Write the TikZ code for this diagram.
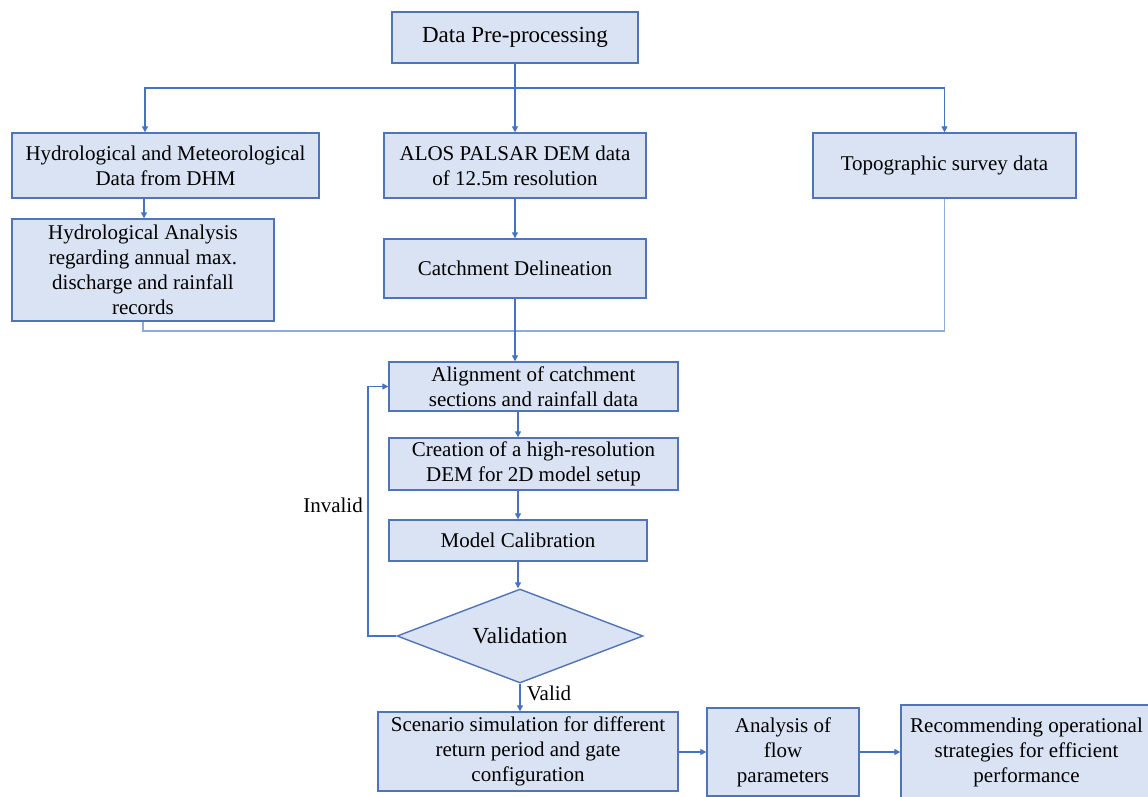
\documentclass[tikz,border=0pt]{standalone}
\usepackage{fontspec}
\setmainfont{Liberation Serif}
\usetikzlibrary{arrows.meta,shapes.geometric}
\definecolor{boxfill}{RGB}{218,227,243}
\definecolor{boxdraw}{RGB}{79,116,186}
\definecolor{linkc}{RGB}{68,114,196}
\definecolor{linklight}{RGB}{143,170,220}
\tikzset{
  flowbox/.style={draw=boxdraw, fill=boxfill, line width=1.4pt, inner sep=0pt, align=center,
    font=\fontsize{21}{25}\selectfont},
  link/.style={draw=linkc, line width=1.3pt, -{Triangle[length=6pt,width=6pt]}},
  lightlink/.style={draw=linklight, line width=1.5pt},
  lbl/.style={inner sep=0pt, font=\fontsize{21}{25}\selectfont}
}
\begin{document}
\begin{tikzpicture}[x=1pt,y=-1pt]
\useasboundingbox (0,0) rectangle (1148,797);

\node[flowbox, minimum width=246, minimum height=51, font=\fontsize{23}{27}\selectfont] (dpp) at (515,37.5) {Data Pre-processing};
\node[flowbox, minimum width=307, minimum height=65] (hm) at (165.5,165.5) {Hydrological and Meteorological\\Data from DHM};
\node[flowbox, minimum width=262, minimum height=65] (alos) at (515,165.5) {ALOS PALSAR DEM data\\of 12.5m resolution};
\node[flowbox, minimum width=263, minimum height=65] (topo) at (944.5,165.5) {Topographic survey data};
\node[flowbox, minimum width=262, minimum height=102] (ha) at (143,270) {Hydrological Analysis\\regarding annual max.\\discharge and rainfall\\records};
\node[flowbox, minimum width=262, minimum height=59] (cd) at (515,268.5) {Catchment Delineation};
\node[flowbox, minimum width=289, minimum height=49] (al) at (533.5,386.5) {Alignment of catchment\\sections and rainfall data};
\node[flowbox, minimum width=289, minimum height=52] (cr) at (533.5,464) {Creation of a high-resolution\\DEM for 2D model setup};
\node[flowbox, minimum width=258, minimum height=41] (mc) at (518,540.5) {Model Calibration};
\node[flowbox, shape=diamond, aspect=2.6, minimum width=246, minimum height=94, font=\fontsize{23}{27}\selectfont] (val) at (520,636) {Validation};
\node[flowbox, minimum width=300, minimum height=79] (sc) at (528,751.5) {Scenario simulation for different\\return period and gate\\configuration};
\node[flowbox, minimum width=152, minimum height=88] (af) at (783,752) {Analysis of\\flow\\parameters};
\node[flowbox, minimum width=251, minimum height=95] (rec) at (1026.5,752.5) {Recommending operational\\strategies for efficient\\performance};

\node[lbl] (inv) at (333,505) {Invalid};
\node[lbl] (vld) at (549,693) {Valid};

% top split
\coordinate (split) at (515,88);
\draw[link] (dpp.south) -- (alos.north);
\draw[link] (split) -| ([xshift=-20.5pt]hm.north);
\draw[link] (split) -| (topo.north);
\draw[link] ([xshift=-21.5pt]hm.south) -- ([xshift=-21.5pt]hm.south |- ha.north);
\draw[link] (alos.south) -- (cd.north);

% merge
\coordinate (merge) at (515,331);
\draw[lightlink] (ha.south) |- (merge);
\draw[lightlink] (topo.south) |- (merge);
\draw[link] (cd.south) -- (cd.south |- al.north);

% central chain
\draw[link] ([xshift=-15.5pt]al.south) -- ([xshift=-15.5pt]al.south |- cr.north);
\draw[link] ([xshift=-15.5pt]cr.south) -- ([xshift=-15.5pt]cr.south |- mc.north);
\draw[link] (mc.south) -- (mc.south |- val.north);
\draw[link] (val.south) -- (val.south |- sc.north);

% invalid loop
\coordinate (loopb) at (368,636);
\coordinate (loopt) at (368,386.5);
\draw[link] (val.west) -- (loopb) -- (loopt) -- (al.west);

% bottom row
\draw[link] (sc.east |- af.west) -- (af.west);
\draw[link] (af.east) -- (af.east -| rec.west);
\end{tikzpicture}
\end{document}
